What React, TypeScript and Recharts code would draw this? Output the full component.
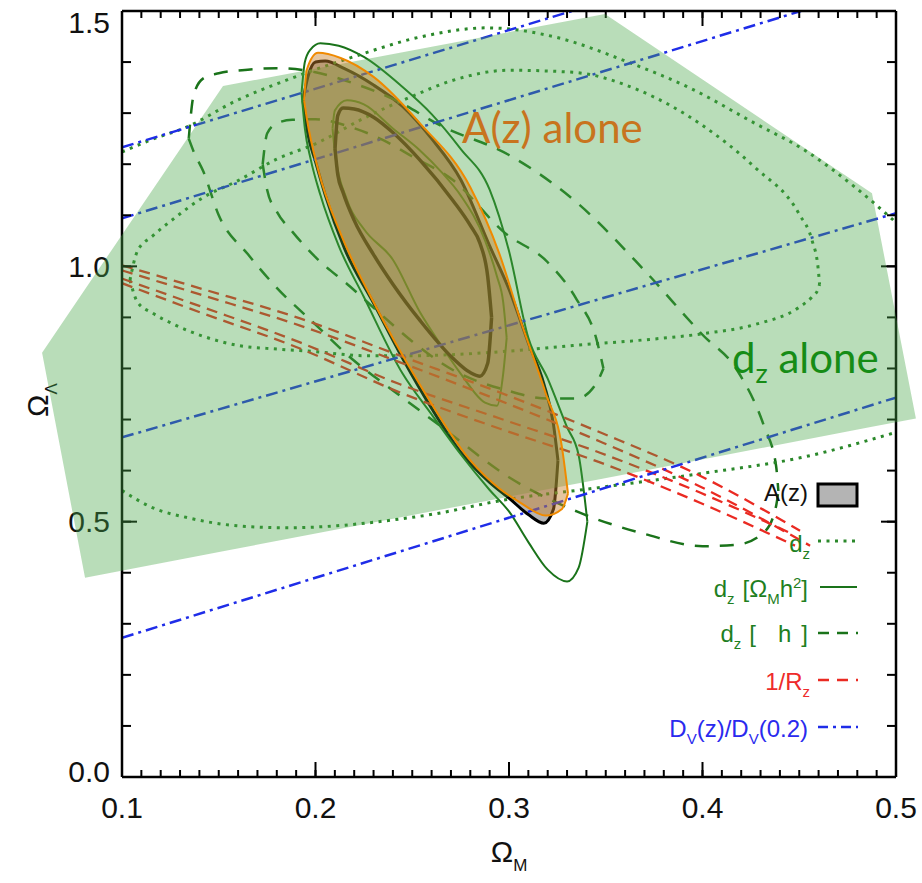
import React from 'react';
import {
  ComposedChart, Area, Line, XAxis, YAxis, Label, Legend, ReferenceDot,
} from 'recharts';

const W = 922;
const H = 883;
const FONT = '"Liberation Sans", Arial, sans-serif';

// ticks
const xMajor = [0.1, 0.2, 0.3, 0.4, 0.5];
const yMajor = [0.0, 0.5, 1.0, 1.5];
const xMinor = Array.from({ length: 41 }, (_, i) => (10 + i) / 100);
const yMinor = Array.from({ length: 16 }, (_, i) => i / 10);

// A(z): outer (grey filled) and inner contour, x with lower / upper edge
const azOuterX = [0.1935, 0.196, 0.2, 0.205, 0.215, 0.23, 0.245, 0.26, 0.275, 0.29, 0.3, 0.31, 0.318, 0.323, 0.3253];
const azOuterLo = [1.325, 1.26, 1.205, 1.14, 1.035, 0.928, 0.82, 0.722, 0.636, 0.577, 0.546, 0.514, 0.497, 0.525, 0.62];
const azOuterHi = [1.325, 1.37, 1.4, 1.402, 1.387, 1.355, 1.313, 1.25, 1.17, 1.04, 0.955, 0.85, 0.77, 0.69, 0.62];

const azInnerX = [0.2101, 0.2115, 0.2142, 0.22, 0.23, 0.24, 0.254, 0.271, 0.28, 0.285, 0.289, 0.291];
const azInnerLo = [1.23, 1.18, 1.145, 1.09, 1.023, 0.965, 0.894, 0.82, 0.792, 0.785, 0.81, 0.9];
const azInnerHi = [1.23, 1.295, 1.31, 1.308, 1.292, 1.262, 1.208, 1.129, 1.08, 1.045, 0.98, 0.9];

// orange "A(z) alone" highlight
const orangeX = [0.1941, 0.1955, 0.2013, 0.213, 0.23, 0.254, 0.28, 0.295, 0.306, 0.319, 0.3274, 0.3305];
const orangeLo = [1.325, 1.29, 1.19, 1.064, 0.93, 0.768, 0.62, 0.565, 0.537, 0.512, 0.525, 0.555];
const orangeHi = [1.325, 1.385, 1.418, 1.408, 1.371, 1.28, 1.155, 1.025, 0.894, 0.751, 0.645, 0.555];

// d_z [Omega_M h^2] solid contours
const mhOuterX = [0.1928, 0.1945, 0.1975, 0.2025, 0.212, 0.225, 0.245, 0.26, 0.275, 0.29, 0.3, 0.31, 0.32, 0.33, 0.336, 0.3405];
const mhOuterLo = [1.34, 1.27, 1.21, 1.14, 1.04, 0.94, 0.79, 0.71, 0.632, 0.562, 0.52, 0.46, 0.406, 0.383, 0.41, 0.5];
const mhOuterHi = [1.34, 1.4, 1.425, 1.437, 1.432, 1.41, 1.351, 1.298, 1.23, 1.15, 1.03, 0.86, 0.78, 0.685, 0.63, 0.5];

const mhInnerX = [0.2088, 0.21, 0.2163, 0.225, 0.24, 0.254, 0.265, 0.275, 0.2876, 0.2938, 0.297, 0.2988];
const mhInnerLo = [1.27, 1.225, 1.13, 1.073, 1.013, 0.91, 0.845, 0.79, 0.733, 0.727, 0.79, 0.86];
const mhInnerHi = [1.27, 1.305, 1.325, 1.317, 1.27, 1.227, 1.185, 1.139, 1.051, 0.98, 0.93, 0.86];

// d_z [h] dashed contours
const hOuterX = [0.1345, 0.137, 0.142, 0.15, 0.165, 0.18, 0.2, 0.22, 0.24, 0.265, 0.3, 0.335, 0.37, 0.4, 0.418, 0.432, 0.438, 0.4392];
const hOuterLo = [1.25, 1.225, 1.186, 1.1, 1.024, 0.958, 0.886, 0.815, 0.757, 0.686, 0.587, 0.52, 0.476, 0.452, 0.455, 0.48, 0.53, 0.56];
const hOuterHi = [1.25, 1.335, 1.368, 1.378, 1.385, 1.388, 1.38, 1.358, 1.328, 1.275, 1.218, 1.125, 0.992, 0.866, 0.796, 0.685, 0.61, 0.56];

const hInnerX = [0.1727, 0.175, 0.18, 0.188, 0.2, 0.218, 0.235, 0.25, 0.271, 0.298, 0.32, 0.335, 0.345, 0.3488];
const hInnerLo = [1.2, 1.15, 1.107, 1.068, 1.018, 0.96, 0.902, 0.853, 0.797, 0.758, 0.741, 0.741, 0.77, 0.8];
const hInnerHi = [1.2, 1.26, 1.28, 1.287, 1.288, 1.273, 1.247, 1.215, 1.169, 1.065, 1.008, 0.935, 0.86, 0.8];

// d_z dotted: closed inner contour, outer contour cut by the frame (top and bottom parts)
const dzInnerX = [0.1041, 0.108, 0.116, 0.127, 0.142, 0.16, 0.18, 0.2, 0.225, 0.25, 0.27, 0.3, 0.333, 0.367, 0.4, 0.427, 0.45, 0.4566, 0.4597, 0.4605];
const dzInnerLo = [0.973, 0.93, 0.908, 0.886, 0.863, 0.845, 0.838, 0.833, 0.825, 0.825, 0.827, 0.834, 0.845, 0.855, 0.868, 0.886, 0.92, 0.94, 0.955, 0.965];
const dzInnerHi = [0.973, 1.03, 1.06, 1.094, 1.135, 1.168, 1.21, 1.24, 1.29, 1.333, 1.363, 1.384, 1.38, 1.345, 1.276, 1.194, 1.102, 1.051, 0.998, 0.965];

const dzTopX = [0.1, 0.1145, 0.1336, 0.1594, 0.1853, 0.2194, 0.254, 0.2886, 0.3238, 0.3615, 0.3925, 0.4271, 0.453, 0.4788, 0.5];
const dzTopY = [1.224, 1.247, 1.273, 1.325, 1.365, 1.41, 1.449, 1.467, 1.449, 1.4, 1.351, 1.28, 1.227, 1.155, 1.086];
const dzBotX = [0.1, 0.116, 0.1336, 0.1594, 0.1853, 0.2111, 0.237, 0.2628, 0.2953, 0.347, 0.3987, 0.4504, 0.5];
const dzBotY = [0.561, 0.527, 0.508, 0.492, 0.488, 0.492, 0.502, 0.516, 0.541, 0.567, 0.594, 0.625, 0.675];

// 1/R_z red dashed
const rzX = [0.1, 0.1403, 0.192, 0.2437, 0.2953, 0.347, 0.3987];
const rz1Y = [1.002, 0.957, 0.898, 0.825, 0.753, 0.675, 0.59];
const rz2Y = [0.992, 0.945, 0.884, 0.812, 0.737, 0.657, 0.569];
const rz3Y = [0.976, 0.922, 0.851, 0.769, 0.702, 0.635, 0.557];
const rz4Y = [0.967, 0.91, 0.839, 0.753, 0.682, 0.616, 0.537];
const rzEndX = [0.4504, 0.4556, 0.4452, 0.4478];
const rzEndY = [0.482, 0.453, 0.478, 0.453];

// D_V(z)/D_V(0.2) blue dash-dot
const dv1 = { x: [0.1, 0.3326], y: [1.233, 1.5] };
const dv2 = { x: [0.1, 0.4509], y: [1.094, 1.5] };
const dv3 = { x: [0.1, 0.5], y: [0.665, 1.104] };
const dv4 = { x: [0.1, 0.5], y: [0.2725, 0.743] };

// "d_z alone" shaded region
const polyX = [0.0587, 0.0809, 0.1522, 0.3496, 0.4876, 0.5103];
const polyLo = [0.831, 0.39, 0.442, 0.585, 0.686, 0.702];
const polyHi = [0.831, 0.955, 1.353, 1.494, 1.143, 0.702];

const band = (xs: number[], lo: number[], hi: number[]) => xs.map((x, i) => ({ x, r: [lo[i], hi[i]] }));
const path = (xs: number[], ys: number[]) => xs.map((x, i) => ({ x, y: ys[i] }));

const GREEN_DOT = '#2a882a';
const GREEN = '#1a731a';
const RED = '#ea2a22';
const BLUE = '#1f2de8';
const DOTS = '3 5.5';

const tickStroke = { stroke: '#000', strokeWidth: 2 };
const frame = { stroke: '#000', strokeWidth: 2.5 };

function NoLabel() {
  return <g />;
}

function BottomLabel({ x, y, payload }: any) {
  return (
    <text x={x} y={y + 41} textAnchor="middle" fontSize={30} fontFamily={FONT} fill="#111">
      {payload.value.toFixed(1)}
    </text>
  );
}

function LeftLabel({ x, y, payload }: any) {
  const v = payload.value;
  const dy = v >= 1.5 ? 11 : v <= 0 ? -6 : 0;
  return (
    <text x={x - 12} y={y + dy} dominantBaseline="central" textAnchor="end" fontSize={30} fontFamily={FONT} fill="#111">
      {v.toFixed(1)}
    </text>
  );
}

function XTitle({ viewBox }: any) {
  const cx = viewBox.x + viewBox.width / 2;
  return (
    <text x={cx} y={viewBox.y + 85} textAnchor="middle" fontSize={30} fontFamily={FONT} fill="#111">
      Ω<tspan dy={9} fontSize={17}>M</tspan>
    </text>
  );
}

function YTitle({ viewBox }: any) {
  const x = viewBox.x + 6;
  const y = viewBox.y + viewBox.height / 2 + 6;
  return (
    <text x={x} y={y} transform={`rotate(-90, ${x}, ${y})`} textAnchor="middle" fontSize={30} fontFamily={FONT} fill="#111">
      Ω<tspan dy={9} fontSize={17}>Λ</tspan>
    </text>
  );
}

function LegendBox() {
  return (
    <svg width={300} height={290} style={{ overflow: 'visible' }}>
      <g fontFamily={FONT} fontSize={24}>
        <text x={208} y={41} textAnchor="end" fill="#111">A(z)</text>
        <rect x={218} y={24} width={39} height={22} fill="#b4b4b4" stroke="#000" strokeWidth={3} />

        <text x={210} y={92} textAnchor="end" fill="#1f7f1f">
          d<tspan dy={7} fontSize={15}>z</tspan>
        </text>
        <line x1={218} x2={258} y1={81} y2={81} stroke={GREEN_DOT} strokeWidth={3} strokeDasharray={DOTS} />

        <text x={208} y={137} textAnchor="end" fill="#1f7f1f">
          d<tspan dy={7} fontSize={15}>z</tspan><tspan dy={-7} dx={8}>[Ω</tspan><tspan dy={7} fontSize={15}>M</tspan>
          <tspan dy={-7}>h</tspan><tspan dy={-9} fontSize={15}>2</tspan><tspan dy={9}>]</tspan>
        </text>
        <line x1={220} x2={257} y1={127} y2={127} stroke={GREEN} strokeWidth={2} />

        <text x={208} y={182} textAnchor="end" fill="#1f7f1f">
          d<tspan dy={7} fontSize={15}>z</tspan><tspan dy={-7} dx={8}>[</tspan><tspan dx={22}>h</tspan><tspan dx={10}>]</tspan>
        </text>
        <line x1={218} x2={258} y1={173} y2={173} stroke={GREEN} strokeWidth={2.5} strokeDasharray="11 8" />

        <text x={210} y={230} textAnchor="end" fill="#ee2b2b">
          1/R<tspan dy={7} fontSize={15}>z</tspan>
        </text>
        <line x1={218} x2={258} y1={220} y2={220} stroke={RED} strokeWidth={2.5} strokeDasharray="11 8" />

        <text x={208} y={277} textAnchor="end" fill="#2a2aee">
          D<tspan dy={7} fontSize={15}>V</tspan><tspan dy={-7}>(z)/D</tspan><tspan dy={7} fontSize={15}>V</tspan><tspan dy={-7}>(0.2)</tspan>
        </text>
        <line x1={218} x2={258} y1={267} y2={267} stroke={BLUE} strokeWidth={2.5} strokeDasharray="10 5 3 5" />
      </g>
    </svg>
  );
}

function AnnotA({ viewBox }: any) {
  return (
    <text x={viewBox.x} y={viewBox.y} fontSize={42} fontFamily="Lato, sans-serif" fill="#c8741e">
      A(z) alone
    </text>
  );
}

function AnnotD({ viewBox }: any) {
  return (
    <text x={viewBox.x} y={viewBox.y} fontSize={42} fontFamily="Lato, sans-serif" fill="#168c16">
      d<tspan dy={10} fontSize={27}>z</tspan><tspan dy={-10}> alone</tspan>
    </text>
  );
}

const common = { isAnimationActive: false, dot: false, activeDot: false, legendType: 'none' as const };

export default function App() {
  return (
    <div style={{ position: 'absolute', left: 0, top: 0, width: W, height: H, background: '#fff' }}>
      <div style={{ position: 'absolute', left: 0, top: 0 }}>
        <ComposedChart width={W} height={H} margin={{ top: 10, right: 25, bottom: 46, left: 42 }}>
          {/* frame: labelled bottom/left axes with major ticks, mirrored axes carry the minor ticks */}
          <XAxis
            type="number" dataKey="x" domain={[0.1, 0.5]} allowDataOverflow ticks={xMajor} interval={0}
            height={60} tickSize={-15} tickMargin={15} tickLine={tickStroke} tick={<BottomLabel />} axisLine={frame}
          >
            <Label content={<XTitle />} />
          </XAxis>
          <XAxis
            xAxisId="bm" mirror type="number" dataKey="x" domain={[0.1, 0.5]} allowDataOverflow ticks={xMinor}
            interval={0} height={1} tickSize={7} tickLine={tickStroke} tick={<NoLabel />} axisLine={false}
          />
          <XAxis
            xAxisId="top" orientation="top" type="number" dataKey="x" domain={[0.1, 0.5]} allowDataOverflow
            ticks={xMajor} interval={0} height={1} tickSize={-15} tickLine={tickStroke} tick={<NoLabel />} axisLine={frame}
          />
          <XAxis
            xAxisId="tm" orientation="top" mirror type="number" dataKey="x" domain={[0.1, 0.5]} allowDataOverflow
            ticks={xMinor} interval={0} height={1} tickSize={7} tickLine={tickStroke} tick={<NoLabel />} axisLine={false}
          />
          <YAxis
            type="number" domain={[0, 1.5]} allowDataOverflow ticks={yMajor} interval={0} width={80}
            tickSize={-15} tickMargin={15} tickLine={tickStroke} tick={<LeftLabel />} axisLine={frame}
          >
            <Label content={<YTitle />} />
          </YAxis>
          <YAxis
            yAxisId="lm" mirror type="number" domain={[0, 1.5]} allowDataOverflow ticks={yMinor} interval={0}
            width={1} tickSize={9} tickLine={tickStroke} tick={<NoLabel />} axisLine={false}
          />
          <YAxis
            yAxisId="right" orientation="right" type="number" domain={[0, 1.5]} allowDataOverflow ticks={yMajor}
            interval={0} width={1} tickSize={-15} tickLine={tickStroke} tick={<NoLabel />} axisLine={frame}
          />
          <YAxis
            yAxisId="rm" orientation="right" mirror type="number" domain={[0, 1.5]} allowDataOverflow ticks={yMinor}
            interval={0} width={1} tickSize={9} tickLine={tickStroke} tick={<NoLabel />} axisLine={false}
          />

          <Area {...common} data={band(azOuterX, azOuterLo, azOuterHi)} dataKey="r" type="monotone"
            fill="#b4b4b4" fillOpacity={1} stroke="#000" strokeWidth={3} />

          <Area {...common} data={band(dzInnerX, dzInnerLo, dzInnerHi)} dataKey="r" type="monotone"
            fill="none" stroke={GREEN_DOT} strokeWidth={3} strokeDasharray={DOTS} />
          <Line {...common} data={path(dzTopX, dzTopY)} dataKey="y" type="monotone"
            stroke={GREEN_DOT} strokeWidth={3} strokeDasharray={DOTS} />
          <Line {...common} data={path(dzBotX, dzBotY)} dataKey="y" type="monotone"
            stroke={GREEN_DOT} strokeWidth={3} strokeDasharray={DOTS} />

          <Area {...common} data={band(hOuterX, hOuterLo, hOuterHi)} dataKey="r" type="monotone"
            fill="none" stroke={GREEN} strokeWidth={2.5} strokeDasharray="14 11" />
          <Area {...common} data={band(hInnerX, hInnerLo, hInnerHi)} dataKey="r" type="monotone"
            fill="none" stroke={GREEN} strokeWidth={2.5} strokeDasharray="14 11" />

          {[rz1Y, rz2Y, rz3Y, rz4Y].map((ys, i) => (
            <Line key={`rz${i}`} {...common} data={path([...rzX, rzEndX[i]], [...ys, rzEndY[i]])} dataKey="y"
              type="monotone" stroke={RED} strokeWidth={2.3} strokeDasharray="11 7" />
          ))}

          {[dv1, dv2, dv3, dv4].map((d, i) => (
            <Line key={`dv${i}`} {...common} data={path(d.x, d.y)} dataKey="y" type="linear"
              stroke={BLUE} strokeWidth={2.5} strokeDasharray="12 5 3 5" />
          ))}

          <Area {...common} data={band(mhOuterX, mhOuterLo, mhOuterHi)} dataKey="r" type="monotone"
            fill="none" stroke={GREEN} strokeWidth={2} />
          <Area {...common} data={band(mhInnerX, mhInnerLo, mhInnerHi)} dataKey="r" type="monotone"
            fill="none" stroke="#2f7d1f" strokeWidth={2} />
          <Area {...common} data={band(azInnerX, azInnerLo, azInnerHi)} dataKey="r" type="monotone"
            fill="none" stroke="#000" strokeWidth={3.5} />

          <Legend layout="horizontal" verticalAlign="middle" align="center" content={<LegendBox />}
            wrapperStyle={{ position: 'absolute', left: 600, top: 460, width: 300, height: 290 }} />
        </ComposedChart>
      </div>

      <div style={{ position: 'absolute', left: 0, top: 0, pointerEvents: 'none' }}>
        <ComposedChart width={W} height={H} margin={{ top: 11, right: 2.8, bottom: 106, left: 25.25 }}>
          <XAxis hide type="number" dataKey="x" domain={[0.05, 0.512]} allowDataOverflow />
          <YAxis hide type="number" domain={[0, 1.5]} allowDataOverflow />
          <Area {...common} data={band(polyX, polyLo, polyHi)} dataKey="r" type="linear"
            fill="#46a546" fillOpacity={0.38} stroke="none" />
          <Area {...common} data={band(orangeX, orangeLo, orangeHi)} dataKey="r" type="monotone"
            fill="#c8802a" fillOpacity={0.45} stroke="none" />
          <Area {...common} data={band(orangeX, orangeLo, orangeHi)} dataKey="r" type="monotone"
            fill="none" stroke="#f08a00" strokeWidth={2} />
          <ReferenceDot x={0.2757} y={1.241} r={0} fill="none" stroke="none" label={{ content: <AnnotA /> }} />
          <ReferenceDot x={0.4152} y={0.792} r={0} fill="none" stroke="none" label={{ content: <AnnotD /> }} />
        </ComposedChart>
      </div>
    </div>
  );
}
